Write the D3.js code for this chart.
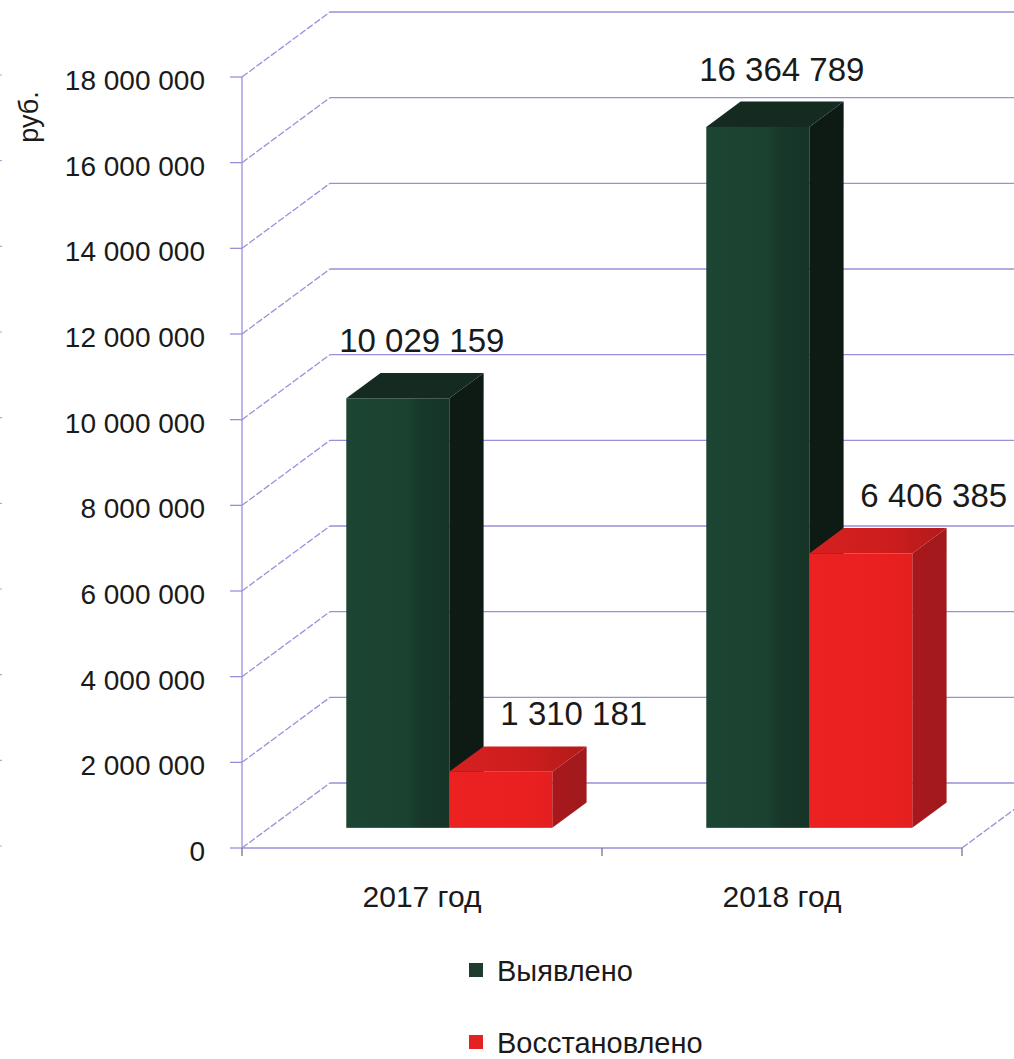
<!DOCTYPE html>
<html>
<head>
<meta charset="utf-8">
<script src="https://cdn.jsdelivr.net/npm/d3@7"></script>
<style>
  html, body { margin: 0; padding: 0; background: #fff; overflow: hidden; }
  svg { display: block; }
  text { font-family: "Liberation Sans", Arial, sans-serif; fill: #1a1a1a; }
</style>
</head>
<body>
<svg id="chart" width="1014" height="1059"></svg>
<script>
// Chart data
const categories = ["2017 год", "2018 год"];
const seriesNames = ["Выявлено", "Восстановлено"];
const detected = [10029159, 16364789];
const restored = [1310181, 6406385];
const yTicks = [0, 2000000, 4000000, 6000000, 8000000, 10000000, 12000000, 14000000, 16000000, 18000000];
const unitLabel = "руб.";

// Layout
const W = 1014, H = 1059;
const DX = 88, DY = -65;          // full depth offset of the 3D box
const T0 = 0.31, T1 = 0.70;       // bar depth range (fraction of full depth)
const BAR_W = 103;

const svg = d3.select("#chart");
const fmt = d3.formatLocale({ decimal: ",", thousands: " ", grouping: [3], currency: ["", ""] }).format(",d");

const y = d3.scaleLinear().domain([0, 18000000]).range([848, 77]);
const x = d3.scaleBand().domain(categories).range([242, 962]);
const xs = d3.scaleBand().domain(seriesNames).range([0, BAR_W * 2]);

const proj = (px, py, t) => [px + DX * t, py + DY * t];

const series = [
  { name: seriesNames[0], values: detected, front: "gGreen", top: "#152a20", side: "#0e1a14", legend: "#1e3d2e", labelDx: 24 },
  { name: seriesNames[1], values: restored, front: "gRed", top: "gRedTop", side: "gRedSide", legend: "#e52222", labelDx: 73 }
];

// Gradients
const defs = svg.append("defs");
function hGrad(id, stops) {
  const g = defs.append("linearGradient").attr("id", id).attr("x1", 0).attr("x2", 1).attr("y1", 0).attr("y2", 0);
  stops.forEach(([o, c]) => g.append("stop").attr("offset", o).attr("stop-color", c));
}
hGrad("gGreen", [[0, "#1d4533"], [0.6, "#1b4130"], [0.72, "#17382a"], [1, "#163427"]]);
hGrad("gRed", [[0, "#ec2121"], [0.7, "#ea2020"], [1, "#e41f1f"]]);
hGrad("gRedTop", [[0, "#d62020"], [0.6, "#cc1d1d"], [1, "#b01a1b"]]);
hGrad("gRedSide", [[0, "#a8181c"], [1, "#a01a1d"]]);
const fillOf = v => v.startsWith("#") ? v : `url(#${v})`;

// Grid: back wall, left wall diagonals, floor
const gridColor = "#9891da";
const grid = svg.append("g").attr("fill", "none").attr("stroke", gridColor).attr("stroke-width", 1.3);

yTicks.forEach(v => {
  const [bx, by] = proj(242, y(v), 1);
  grid.append("line").attr("x1", 242).attr("y1", y(v)).attr("x2", bx).attr("y2", by)
    .attr("stroke-dasharray", "7,2");
  grid.append("line").attr("x1", bx).attr("y1", by).attr("x2", W + 40).attr("y2", by);
});

// floor front edge, right floor diagonal, front value axis
grid.append("line").attr("x1", 242).attr("y1", y(0)).attr("x2", 962).attr("y2", y(0));
{
  const [rx, ry] = proj(962, y(0), 1);
  grid.append("line").attr("x1", 962).attr("y1", y(0)).attr("x2", rx).attr("y2", ry).attr("stroke-dasharray", "7,2");
}
grid.append("line").attr("x1", 242).attr("y1", y(18000000)).attr("x2", 242).attr("y2", y(0));

// value axis ticks and labels
const axis = svg.append("g");
yTicks.forEach(v => {
  axis.append("line").attr("x1", 230).attr("x2", 242).attr("y1", y(v)).attr("y2", y(v))
    .attr("stroke", gridColor).attr("stroke-width", 1.3);
  axis.append("text").attr("x", 205).attr("y", y(v) + 13).attr("text-anchor", "end")
    .attr("font-size", 28).text(fmt(v));
  axis.append("line").attr("x1", 0).attr("x2", 2).attr("y1", y(v) - 2).attr("y2", y(v) - 2)
    .attr("stroke", "#8a84c8").attr("stroke-width", 1.2).attr("opacity", 0.7);
});

// category ticks and labels
[242, ...categories.map(c => x(c) + x.bandwidth())].forEach(tx => {
  axis.append("line").attr("x1", tx).attr("x2", tx).attr("y1", y(0)).attr("y2", y(0) + 8)
    .attr("stroke", "#777").attr("stroke-width", 1.3);
});
categories.forEach(c => {
  axis.append("text").attr("x", x(c) + x.bandwidth() / 2).attr("y", 907)
    .attr("text-anchor", "middle").attr("font-size", 30).text(c);
});

// unit label
svg.append("text").attr("transform", "translate(38,117) rotate(-90)")
  .attr("text-anchor", "middle").attr("font-size", 27).text(unitLabel);

// Bars (drawn left to right so each front covers the neighbour's side face)
const bars = svg.append("g");
const labels = svg.append("g");
categories.forEach((c, ci) => {
  series.forEach(s => {
    const v = s.values[ci];
    const left = x(c) + (x.bandwidth() - BAR_W * 2) / 2 + xs(s.name);
    const right = left + BAR_W;
    const yt = y(v), yb = y(0);
    const P = (px, py, t) => proj(px, py, t).join(",");

    // side face
    bars.append("polygon")
      .attr("points", [P(right, yt, T0), P(right, yt, T1), P(right, yb, T1), P(right, yb, T0)].join(" "))
      .attr("fill", fillOf(s.side));
    // top face
    bars.append("polygon")
      .attr("points", [P(left, yt, T0), P(right, yt, T0), P(right, yt, T1), P(left, yt, T1)].join(" "))
      .attr("fill", fillOf(s.top));
    // front face
    const [fx0, fy0] = proj(left, yt, T0);
    const [fx1, fy1] = proj(right, yb, T0);
    bars.append("rect").attr("x", fx0).attr("y", fy0).attr("width", fx1 - fx0).attr("height", fy1 - fy0)
      .attr("fill", fillOf(s.front));

    // value label above the bar
    const [lx, ly] = proj(left + BAR_W / 2, yt, T1);
    labels.append("text").attr("x", lx - DX * (T1 - T0) + s.labelDx).attr("y", ly - 21)
      .attr("text-anchor", "middle").attr("font-size", 33).text(fmt(v));
  });
});

// Legend
const legend = svg.append("g");
series.forEach((s, i) => {
  const ly = 963 + i * 72;
  legend.append("rect").attr("x", 469).attr("y", ly).attr("width", 14).attr("height", 14).attr("fill", s.legend);
  legend.append("text").attr("x", 497).attr("y", ly + 18).attr("font-size", 29).text(s.name);
});
</script>
</body>
</html>
